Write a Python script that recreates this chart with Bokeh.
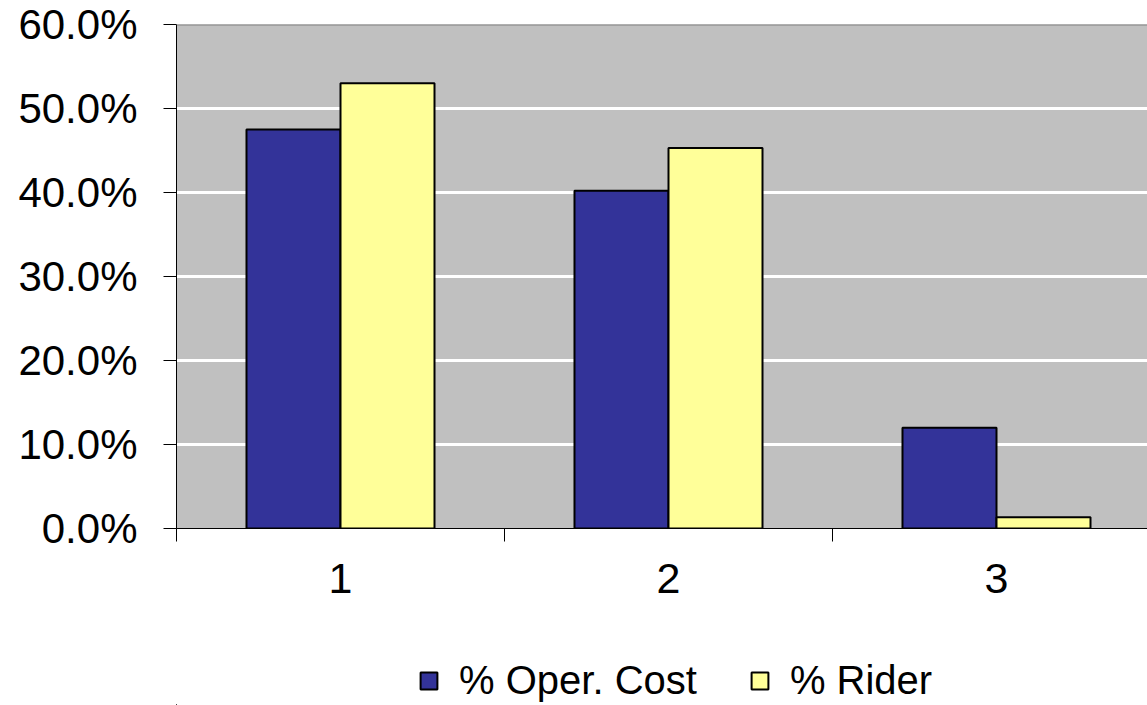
from bokeh.plotting import figure
from bokeh.layouts import column
from bokeh.models import (ColumnDataSource, FixedTicker, NumeralTickFormatter, Span,
                          Legend, LegendItem, Range1d)
from bokeh.transform import dodge
from bokeh.embed import file_html
from bokeh.resources import INLINE

categories = [1, 2, 3]
category_labels = ["1", "2", "3"]
oper_cost = [0.475, 0.402, 0.120]
rider = [0.530, 0.453, 0.0135]
series_names = ["% Oper. Cost", "% Rider"]
y_ticks = [0.0, 0.1, 0.2, 0.3, 0.4, 0.5, 0.6]

FONT = "Liberation Sans"
BLUE, YELLOW = "#333399", "#FFFF99"
src = ColumnDataSource(dict(x=categories, oper=oper_cost, rider=rider))

W, H = 1147, 705
LEG_H = 85
frame_left, frame_top = 176, 24
frame_bottom = 528
main_h = H - LEG_H
cat_px = 328.0
x_end = 0.5 + (W - frame_left) / cat_px

p = figure(width=W, height=main_h, output_backend="svg", toolbar_location=None,
           x_range=Range1d(0.5, x_end), y_range=Range1d(0, 0.6),
           min_border_left=frame_left, min_border_right=0,
           min_border_top=frame_top, min_border_bottom=main_h - frame_bottom)
p.background_fill_color = "#C0C0C0"
p.border_fill_color = "white"
p.outline_line_color = None

bw = 0.2866
p.vbar(x=dodge("x", -bw / 2, range=p.x_range), top="oper", width=bw, source=src,
       fill_color=BLUE, line_color="black", line_width=2)
p.vbar(x=dodge("x", bw / 2, range=p.x_range), top="rider", width=bw, source=src,
       fill_color=YELLOW, line_color="black", line_width=2)

# grid
p.xgrid.visible = False
p.ygrid.ticker = FixedTicker(ticks=y_ticks)
p.ygrid.grid_line_color = "white"
p.ygrid.grid_line_width = 3
p.add_layout(Span(location=0.6, dimension="width", line_color="#808080", line_width=2))

# y axis
p.yaxis.ticker = FixedTicker(ticks=y_ticks)
p.yaxis.formatter = NumeralTickFormatter(format="0.0%")
p.yaxis.major_label_text_font = FONT
p.yaxis.major_label_text_font_size = "42px"
p.yaxis.major_label_text_color = "black"
p.yaxis.major_tick_out = 13
p.yaxis.major_tick_in = 0
p.yaxis.minor_tick_out = 0
p.yaxis.minor_tick_in = 0
p.yaxis.major_label_standoff = 26
p.yaxis.axis_line_color = "black"
p.yaxis.major_tick_line_color = "black"

# x axis
p.xaxis.ticker = FixedTicker(ticks=categories, minor_ticks=[0.5, 1.5, 2.5, 3.5])
p.xaxis.major_label_overrides = {c: l for c, l in zip(categories, category_labels)}
p.xaxis.major_label_text_font = FONT
p.xaxis.major_label_text_font_size = "43px"
p.xaxis.major_label_text_color = "black"
p.xaxis.major_tick_out = 0
p.xaxis.major_tick_in = 0
p.xaxis.minor_tick_out = 13
p.xaxis.minor_tick_in = 0
p.xaxis.minor_tick_line_color = "black"
p.xaxis.major_label_standoff = 22
p.xaxis.axis_line_color = "black"

# legend strip (legend proxies use the same data, kept outside the strip's view)
lf = figure(width=W, height=LEG_H, output_backend="svg", toolbar_location=None,
            x_range=Range1d(100, 101), y_range=Range1d(100, 101),
            x_axis_type=None, y_axis_type=None, min_border=0)
lf.outline_line_color = None
lf.background_fill_color = "white"
lf.xgrid.visible = False
lf.ygrid.visible = False
l1 = lf.vbar(x="x", top="oper", width=0.1, source=src,
             fill_color=BLUE, line_color="black", line_width=2)
l2 = lf.vbar(x="x", top="rider", width=0.1, source=src,
             fill_color=YELLOW, line_color="black", line_width=2)
legend = Legend(items=[LegendItem(label=series_names[0], renderers=[l1]),
                       LegendItem(label=series_names[1], renderers=[l2])],
                orientation="horizontal", location=(242, 2),
                label_text_font=FONT, label_text_font_size="40px",
                label_text_color="black",
                glyph_width=21, glyph_height=21, label_standoff=20, spacing=52,
                padding=0, margin=0, border_line_color=None,
                background_fill_alpha=0)
lf.add_layout(legend, "center")

layout = column(p, lf, spacing=0)
open("out.html", "w").write(file_html(layout, INLINE))
